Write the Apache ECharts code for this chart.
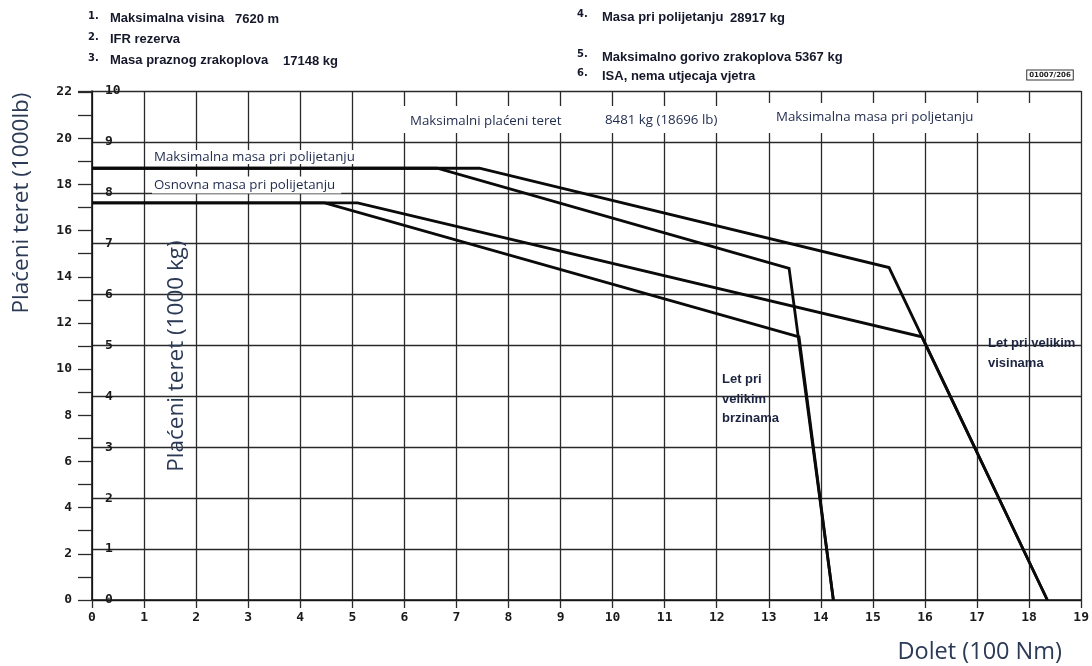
<!DOCTYPE html>
<html>
<head>
<meta charset="utf-8">
<script src="https://cdn.jsdelivr.net/npm/echarts@6/dist/echarts.min.js"></script>
<style>
html,body{margin:0;padding:0;background:#fff;}
#chart{width:1092px;height:666px;}
</style>
</head>
<body>
<div id="chart"></div>
<script>
// ---- data ----
const rangeTicks = [0,1,2,3,4,5,6,7,8,9,10,11,12,13,14,15,16,17,18,19];
const lbTicks = [0,2,4,6,8,10,12,14,16,18,20,22];
const kgTicks = [0,1,2,3,4,5,6,7,8,9,10];
// x = range (100 Nm), y = payload (1000 lb)
const maxMassHighAlt   = [[0,18.7],[7.44,18.7],[15.31,14.4],[18.35,0]];
const maxMassHighSpeed = [[0,18.7],[6.63,18.7],[13.39,14.36],[14.24,0]];
const baseMassHighAlt  = [[0,17.2],[5.1,17.2],[15.94,11.4],[18.35,0]];
const baseMassHighSpeed= [[0,17.2],[4.47,17.2],[13.58,11.4],[14.24,0]];
const headerLeft = [['1.','Maksimalna visina','7620 m'],['2.','IFR rezerva',''],['3.','Masa praznog zrakoplova','17148 kg']];
const headerRight = [['4.','Masa pri polijetanju','28917 kg'],['5.','Maksimalno gorivo zrakoplova 5367 kg',''],['6.','ISA, nema utjecaja vjetra','']];

const LB_PER_KG = 2.2046;
const chart = echarts.init(document.getElementById('chart'));
const gridColor = '#2a2a2a';
const tickFont = {fontFamily:'"DejaVu Sans Mono"', fontWeight:'bold', fontSize:13, color:'#1a1a1a'};
const titleColor = '#2b3a55';
const noteColor = '#1f2a4d';
const hdrFont = 'bold 13px "Liberation Sans"';
const hdrColor = '#15182a';

function lineSeries(data){
  return {type:'line', data:data, xAxisIndex:0, yAxisIndex:0, symbol:'none', silent:true,
    lineStyle:{color:'#0a0a0a', width:2.8, join:'miter'}, z:5};
}

const graphics = [];
const leftY = [17,38,59], rightY = [16,56,75];
headerLeft.forEach((h,i)=>{
  graphics.push({type:'text', z:10, style:{text:h[0], x:88, y:leftY[i]-1, font:'bold 10px "DejaVu Sans"', fill:hdrColor, verticalAlign:'middle'}});
  graphics.push({type:'text', z:10, style:{text:h[1], x:110, y:leftY[i]+1, font:hdrFont, fill:hdrColor, verticalAlign:'middle'}});
  if(h[2]) graphics.push({type:'text', z:10, style:{text:h[2], x:[235,0,283][i], y:leftY[i]+2, font:hdrFont, fill:hdrColor, verticalAlign:'middle'}});
});
headerRight.forEach((h,i)=>{
  graphics.push({type:'text', z:10, style:{text:h[0], x:577, y:rightY[i]-2, font:'bold 10px "DejaVu Sans"', fill:hdrColor, verticalAlign:'middle'}});
  graphics.push({type:'text', z:10, style:{text:h[1], x:602, y:rightY[i]+1, font:hdrFont, fill:hdrColor, verticalAlign:'middle'}});
  if(h[2]) graphics.push({type:'text', z:10, style:{text:h[2], x:730, y:rightY[i]+2, font:hdrFont, fill:hdrColor, verticalAlign:'middle'}});
});
// small reference box
graphics.push({type:'text', z:10, style:{text:'01007/206', x:1050, y:75, font:'bold 7px "DejaVu Sans"', fill:'#222', align:'center', verticalAlign:'middle', backgroundColor:'#fff', borderColor:'#333', borderWidth:1, padding:[1,2]}});
// white bands at top
graphics.push({type:'rect', z:8, shape:{x:396, y:106, width:368, height:27}, style:{fill:'#fff'}});
graphics.push({type:'rect', z:8, shape:{x:766, y:103, width:314, height:30}, style:{fill:'#fff'}});
const noteFont = '13.3px "Open Sans"';
graphics.push({type:'text', z:10, style:{text:'Maksimalni plaćeni teret', x:410, y:121, font:noteFont, fill:noteColor, verticalAlign:'middle'}});
graphics.push({type:'text', z:10, style:{text:'8481 kg (18696 lb)', x:605, y:120, font:noteFont, fill:noteColor, verticalAlign:'middle'}});
graphics.push({type:'text', z:10, style:{text:'Maksimalna masa pri poljetanju', x:776, y:117, font:noteFont, fill:noteColor, verticalAlign:'middle'}});
graphics.push({type:'text', z:10, style:{text:'Maksimalna masa pri polijetanju', x:152, y:157, font:noteFont, fill:noteColor, verticalAlign:'middle', backgroundColor:'#fff', padding:[1,2,0,2]}});
graphics.push({type:'text', z:10, style:{text:'Osnovna masa pri polijetanju', x:152, y:185, font:noteFont, fill:noteColor, verticalAlign:'middle', backgroundColor:'#fff', padding:[2,6,2,2]}});
const boldNote = 'bold 13px "Liberation Sans"';
graphics.push({type:'text', z:10, style:{text:'Let pri\nvelikim\nbrzinama', x:722, y:399, font:boldNote, fill:'#1c2440', verticalAlign:'middle', lineHeight:19.5}});
graphics.push({type:'text', z:10, style:{text:'Let pri velikim\nvisinama', x:988, y:353, font:boldNote, fill:'#1c2440', verticalAlign:'middle', lineHeight:20}});
// axis titles
graphics.push({type:'text', z:10, x:22, y:203, rotation:Math.PI/2, style:{text:'Plaćeni teret (1000lb)', x:0, y:0, font:'22.5px "Open Sans"', fill:titleColor, align:'center', verticalAlign:'middle'}});
graphics.push({type:'text', z:10, x:177, y:356, rotation:Math.PI/2, style:{text:'Plaćeni teret (1000 kg)', x:0, y:0, font:'22.5px "Open Sans"', fill:titleColor, align:'center', verticalAlign:'middle'}});
graphics.push({type:'text', z:10, style:{text:'Dolet (100 Nm)', x:1062, y:652, font:'23.5px "Open Sans"', fill:titleColor, align:'right', verticalAlign:'middle'}});

const option = {
  animation:false,
  backgroundColor:'#fff',
  grid:{left:92, right:10, top:91, bottom:66, containLabel:false},
  xAxis:{type:'value', min:0, max:19, interval:1,
    axisLine:{show:true, lineStyle:{color:'#111', width:1.6}},
    axisTick:{show:true, length:8, lineStyle:{color:gridColor, width:1.3}},
    axisLabel:Object.assign({margin:11, formatter:v=>rangeTicks.includes(v)?String(v):''}, tickFont),
    splitLine:{show:true, lineStyle:{color:gridColor, width:1.3}}},
  yAxis:[
    {type:'value', min:0, max:10*LB_PER_KG, interval:1, position:'left',
      axisLine:{show:true, onZero:false, lineStyle:{color:'#111', width:1.6}},
      axisTick:{show:true, length:14, lineStyle:{color:gridColor, width:1.3}},
      axisLabel:Object.assign({margin:20, formatter:v=>{const r=Math.round(v); return (Math.abs(v-r)<1e-6 && lbTicks.includes(r))?String(r):'';}}, tickFont),
      splitLine:{show:false}},
    {type:'value', min:0, max:10, interval:1, position:'left', offset:0,
      axisLine:{show:false}, axisTick:{show:false},
      axisLabel:Object.assign({inside:true, margin:13, formatter:v=>kgTicks.includes(v)?String(v):''}, tickFont),
      splitLine:{show:true, lineStyle:{color:gridColor, width:1.3}}}
  ],
  series:[lineSeries(maxMassHighAlt), lineSeries(maxMassHighSpeed), lineSeries(baseMassHighAlt), lineSeries(baseMassHighSpeed)],
  graphic:graphics
};
chart.setOption(option);
</script>
</body>
</html>
